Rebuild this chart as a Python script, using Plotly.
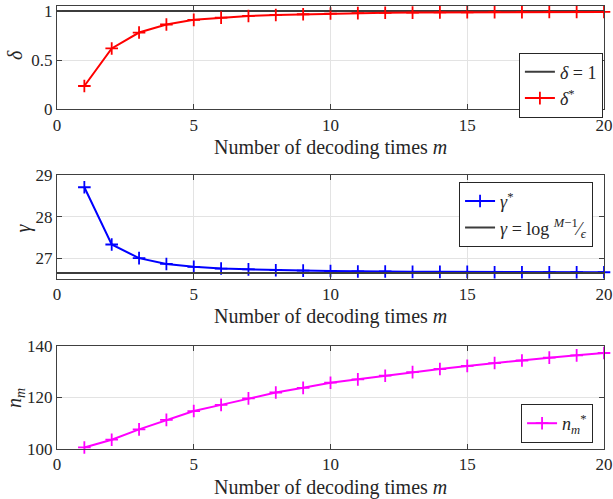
import plotly.graph_objects as go
from plotly.subplots import make_subplots

m = list(range(1, 21))
delta_star = [0.236, 0.618, 0.780, 0.862, 0.909, 0.932, 0.949, 0.959, 0.966, 0.973,
              0.978, 0.981, 0.983, 0.985, 0.986, 0.987, 0.988, 0.989, 0.990, 0.990]
delta_ref_x = [0, 20]
delta_ref_y = [1, 1]
gamma_star = [28.71, 27.33, 27.00, 26.86, 26.79, 26.75, 26.73, 26.71, 26.70, 26.69,
              26.68, 26.68, 26.67, 26.67, 26.67, 26.66, 26.66, 26.66, 26.66, 26.66]
gamma_ref_x = [0, 20]
gamma_ref_y = [26.64, 26.64]
n_star = [100.6, 103.6, 107.6, 111.3, 114.7, 117.1, 119.6, 121.9, 123.7, 125.7,
          127.0, 128.4, 129.8, 131.0, 132.2, 133.3, 134.3, 135.4, 136.3, 137.2]
x_ticks = [0, 5, 10, 15, 20]
x_title = "Number of decoding times <i>m</i>"
y_titles = ["<i>δ</i>", "<i>γ</i>", "<i>n</i><sub><i>m</i></sub>"]

FONT = "Liberation Serif, DejaVu Serif, serif"
AX = "#404040"
GRID = "#e3e3e3"
TXT = "#262626"

fig = make_subplots(rows=3, cols=1)


def mk(c):
    return dict(symbol="cross-thin", size=9, color=c, line=dict(width=1.8, color=c))


fig.add_trace(go.Scatter(x=delta_ref_x, y=delta_ref_y, mode="lines",
                         line=dict(color="#3c3c3c", width=2), cliponaxis=False,
                         name="<i>δ</i> = 1", legend="legend"), row=1, col=1)
fig.add_trace(go.Scatter(x=m, y=delta_star, mode="lines+markers",
                         line=dict(color="#ff0000", width=2), cliponaxis=False,
                         marker=mk("#ff0000"),
                         name="<i>δ</i><sup>*</sup>", legend="legend"), row=1, col=1)

fig.add_trace(go.Scatter(x=m, y=gamma_star, mode="lines+markers",
                         line=dict(color="#0000ff", width=2), cliponaxis=False,
                         marker=mk("#0000ff"),
                         name="<i>γ</i><sup>*</sup>", legend="legend2"), row=2, col=1)
fig.add_trace(go.Scatter(x=gamma_ref_x, y=gamma_ref_y, mode="lines",
                         line=dict(color="#3c3c3c", width=2), cliponaxis=False,
                         name="<i>γ</i> = log <sup><i>M</i>−1</sup>⁄<sub><i>ϵ</i></sub>",
                         legend="legend2"), row=2, col=1)

fig.add_trace(go.Scatter(x=m, y=n_star, mode="lines+markers",
                         line=dict(color="#ff00ff", width=2), cliponaxis=False,
                         marker=mk("#ff00ff"),
                         name="<i>n</i><sub><i>m</i></sub><sup>*</sup>", legend="legend3"), row=3, col=1)

xcommon = dict(range=[0, 20], tickvals=x_ticks, showgrid=True, gridcolor=GRID, gridwidth=1,
               showline=True, linecolor=AX, linewidth=1, mirror="ticks", ticks="inside",
               ticklen=5, tickcolor=AX, zeroline=False, automargin=False,
               tickfont=dict(family=FONT, size=17, color=TXT))
ycommon = dict(showgrid=True, gridcolor=GRID, gridwidth=1,
               showline=True, linecolor=AX, linewidth=1, mirror="ticks", ticks="inside",
               ticklen=5, tickcolor=AX, zeroline=False, automargin=False,
               tickfont=dict(family=FONT, size=17, color=TXT))

legcommon = dict(bgcolor="white", bordercolor=TXT, borderwidth=1,
                 font=dict(family=FONT, size=18), tracegroupgap=0)

fig.update_layout(
    width=613, height=499,
    margin=dict(l=57, r=9, t=6, b=50),
    paper_bgcolor="white", plot_bgcolor="white",
    font=dict(family=FONT, size=17, color=TXT),
    xaxis=dict(domain=[0, 1], **xcommon),
    xaxis2=dict(domain=[0, 1], **xcommon),
    xaxis3=dict(domain=[0, 1], **xcommon),
    yaxis=dict(domain=[0.767, 1.0], range=[0, 1.05], tickvals=[0, 0.5, 1], **ycommon),
    yaxis2=dict(domain=[0.384, 0.618], range=[26.5, 29], tickvals=[27, 28, 29], **ycommon),
    yaxis3=dict(domain=[0.0, 0.233], range=[100, 140], tickvals=[100, 120, 140], **ycommon),
    legend=dict(x=0.998, y=0.895, xanchor="right", yanchor="top", **legcommon),
    legend2=dict(x=0.980, y=0.603, xanchor="right", yanchor="top", **legcommon),
    legend3=dict(x=0.980, y=0.0135, xanchor="right", yanchor="bottom", **legcommon),
    showlegend=True,
)

# axis titles as annotations (paper coords derived from pixel layout)
for yy in [0.680, 0.300, -0.088]:
    fig.add_annotation(text=x_title, xref="paper", yref="paper", x=0.5, y=yy,
                       showarrow=False, xanchor="center", yanchor="middle",
                       font=dict(family=FONT, size=20, color=TXT))
for txt, xx, yy in zip(y_titles, [-0.077, -0.062, -0.077], [0.889, 0.498, 0.115]):
    fig.add_annotation(text=txt, xref="paper", yref="paper", x=xx, y=yy, textangle=-90,
                       showarrow=False, xanchor="center", yanchor="middle",
                       font=dict(family=FONT, size=20, color=TXT))

fig.write_html("out.html", config={"displayModeBar": False},
               post_script="document.body.style.margin='0';document.body.style.overflow='hidden';")
